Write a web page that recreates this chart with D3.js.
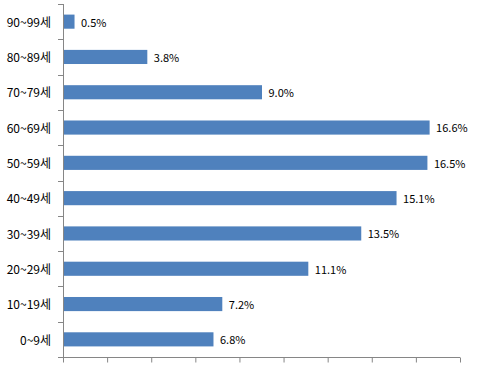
<!DOCTYPE html>
<html>
<head>
<meta charset="utf-8">
<script src="https://cdn.jsdelivr.net/npm/d3@7"></script>
<style>
body { margin: 0; background: #fff; }
text { font-family: "Noto Sans CJK KR", "DejaVu Sans", sans-serif; }
</style>
</head>
<body>
<div id="chart"></div>
<script>
// age groups, top to bottom as drawn
var ageGroups = ["90~99세", "80~89세", "70~79세", "60~69세", "50~59세", "40~49세", "30~39세", "20~29세", "10~19세", "0~9세"];
var shares = [0.5, 3.8, 9.0, 16.6, 16.5, 15.1, 13.5, 11.1, 7.2, 6.8];
var xTicks = [0, 2, 4, 6, 8, 10, 12, 14, 16, 18];

var width = 485, height = 365;
var plotLeft = 63, plotRight = 460, plotTop = 4, plotBottom = 357;

var svg = d3.select("#chart").append("svg")
	.attr("width", width).attr("height", height);

var x = d3.scaleLinear().domain([0, 18]).range([plotLeft, plotRight]);
var y = d3.scaleBand().domain(ageGroups).range([plotTop, plotBottom])
	.paddingInner(0.6).paddingOuter(0.3);

// bars
svg.selectAll("rect.bar").data(ageGroups).enter().append("rect")
	.attr("class", "bar")
	.attr("x", x(0) + 0.5)
	.attr("y", function(d){ return y(d); })
	.attr("width", function(d, i){ return x(shares[i]) - x(0); })
	.attr("height", y.bandwidth())
	.attr("fill", "#4F81BD");

// value labels
svg.selectAll("text.val").data(ageGroups).enter().append("text")
	.attr("class", "val")
	.attr("x", function(d, i){ return x(shares[i]) + 7; })
	.attr("y", function(d){ return y(d) + y.bandwidth() / 2 + 1; })
	.attr("dy", "0.35em")
	.attr("font-size", 11)
	.attr("fill", "#000")
	.text(function(d, i){ return shares[i].toFixed(1) + "%"; });

// y axis (band boundaries as ticks)
var axisColor = "#868686";
var bounds = d3.range(ageGroups.length + 1).map(function(i){
	return plotTop + i * y.step();
});
svg.append("line")
	.attr("x1", plotLeft + 0.5).attr("x2", plotLeft + 0.5)
	.attr("y1", plotTop).attr("y2", plotBottom)
	.attr("stroke", axisColor);
svg.selectAll("line.ytick").data(bounds).enter().append("line")
	.attr("class", "ytick")
	.attr("x1", plotLeft - 5).attr("x2", plotLeft + 0.5)
	.attr("y1", function(d){ return Math.round(d) + 0.5; })
	.attr("y2", function(d){ return Math.round(d) + 0.5; })
	.attr("stroke", axisColor);

svg.selectAll("text.cat").data(ageGroups).enter().append("text")
	.attr("class", "cat")
	.attr("x", plotLeft - 12)
	.attr("y", function(d){ return y(d) + y.bandwidth() / 2 + 1; })
	.attr("dy", "0.35em")
	.attr("text-anchor", "end")
	.attr("font-size", 12)
	.attr("fill", "#000")
	.text(function(d){ return d; });

// x axis, no labels
var xAxis = d3.axisBottom(x).tickValues(xTicks).tickSize(5).tickFormat("");
var gx = svg.append("g")
	.attr("transform", "translate(0," + (plotBottom + 0.5) + ")")
	.call(xAxis);
gx.select(".domain").attr("stroke", axisColor).attr("d", "M" + plotLeft + ",0H" + plotRight);
gx.selectAll(".tick line").attr("stroke", axisColor);
</script>
</body>
</html>
